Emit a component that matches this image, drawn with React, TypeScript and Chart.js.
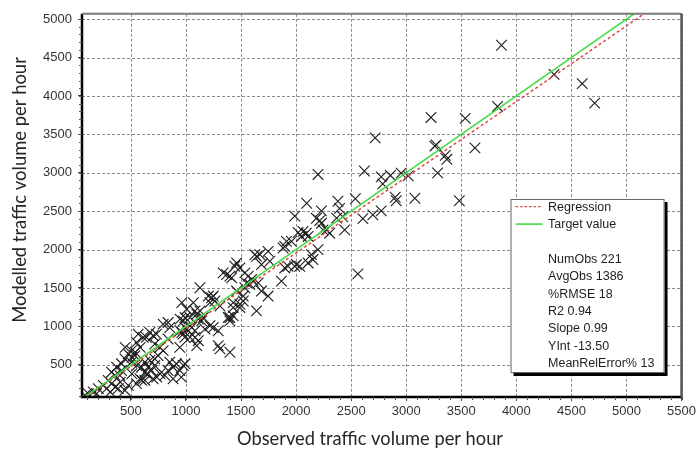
import React, { useEffect, useRef } from "react";
import { Chart, registerables } from "chart.js";

Chart.register(...registerables);

// ---- data ----
const OBSERVED = [
  3225, 3536, 2718, 3271, 3260, 3355, 3369, 2199, 2620, 3285, 2773, 2857, 2954, 3018, 2787,
  2096, 2380, 2538, 2900, 2909, 3079, 3482, 3865, 4342, 4598, 4711, 3829, 3624, 2773, 2395,
  2230, 2184, 2214, 1988, 2606, 2697, 2368, 2422, 2441, 2275, 2305, 2230, 2244, 2063, 2093,
  2109, 2018, 2048, 1958, 1913, 1897, 1882, 2199, 2139, 2153, 2109, 2003, 2033, 1988, 1927,
  1897, 1867, 2561, 1641, 1671, 1746, 1761, 1686, 1460, 1444, 1490, 1626, 1338, 1415, 1369,
  1565, 1596, 1550, 1580, 1610, 1535, 1535, 1656, 1460, 1520, 1746, 1686, 1490, 1429, 1520,
  1399, 1641, 1399, 1127, 1233, 1263, 1203, 1218, 1248, 1309, 1429, 1490, 1384, 1429, 962,
  1007, 1067, 1082, 1037, 1098, 1112, 1143, 1157, 1127, 976, 992, 1052, 1082, 1173, 1218,
  1293, 1037, 1082, 1112, 1098, 1293, 946, 793, 838, 853, 974, 989, 944, 672, 702,
  641, 732, 566, 611, 551, 763, 793, 717, 747, 853, 883, 838, 808, 913, 944,
  958, 883, 672, 627, 717, 596, 657, 687, 627, 717, 505, 476, 446, 536, 505,
  415, 370, 415, 355, 400, 324, 582, 551, 627, 702, 294, 249, 324, 204, 279,
  159, 113, 83, 189, 446, 385, 476, 838, 946, 992, 1007, 962, 976, 992, 735,
  765, 1309, 1248, 1399, 1399, 313, 358, 403, 509, 539, 584, 448, 554, 509, 645,
  600,
];
const MODELLED = [
  3720, 3708, 3454, 3363, 3346, 3226, 3175, 2978, 3023, 2998, 2946, 2965, 2995, 2959, 2855,
  2603, 2629, 2662, 2681, 2636, 2668, 2636, 4660, 4280, 4160, 3906, 3863, 3324, 2503, 2536,
  2503, 2407, 2377, 2435, 2403, 2451, 2410, 2429, 2257, 2257, 2213, 2342, 2257, 2235, 2213,
  2171, 2222, 2171, 2106, 2106, 2041, 2020, 1999, 1934, 1870, 1826, 1805, 1783, 1783, 1783,
  1761, 1589, 1683, 1912, 1934, 1977, 1848, 1805, 1826, 1783, 1761, 1934, 1696, 1632, 1676,
  1654, 1611, 1567, 1547, 1589, 1503, 1696, 1567, 1460, 1395, 1395, 1460, 1288, 1244, 1331,
  1115, 1202, 663, 1503, 1373, 1331, 1395, 1309, 1395, 1266, 1309, 1244, 1115, 1137, 1309,
  1224, 1309, 1202, 1115, 1159, 1094, 1072, 1115, 1202, 1072, 986, 986, 943, 965, 1008,
  943, 857, 857, 814, 749, 749, 943, 1030, 1050, 986, 900, 857, 727, 921, 879,
  857, 900, 900, 857, 792, 727, 685, 771, 620, 534, 469, 426, 362, 513, 426,
  340, 319, 556, 534, 578, 469, 469, 426, 404, 491, 685, 642, 578, 620, 534,
  513, 469, 426, 362, 362, 404, 319, 255, 297, 319, 297, 233, 255, 190, 190,
  146, 125, 104, 125, 168, 190, 233, 836, 1094, 1115, 965, 921, 491, 513, 340,
  384, 707, 986, 1072, 1654, 146, 211, 275, 598, 663, 727, 727, 491, 384, 384,
  297,
];

const X_TICKS = [500, 1000, 1500, 2000, 2500, 3000, 3500, 4000, 4500, 5000, 5500];
const Y_TICKS = [500, 1000, 1500, 2000, 2500, 3000, 3500, 4000, 4500, 5000];
const X_MIN = 56;
const X_MAX = 5500;
const Y_MIN = 81;
const Y_MAX = 5069;
const MINOR_STEP = 100;

const REG_SLOPE = 0.985;
const REG_INTERCEPT = -13.5;

const LEGEND_LABELS = ["Regression", "Target value"];
const STAT_LABELS = [
  "NumObs 221",
  "AvgObs 1386",
  "%RMSE 18",
  "R2 0.94",
  "Slope 0.99",
  "YInt -13.50",
  "MeanRelError% 13",
];
const X_TITLE = "Observed traffic volume per hour";
const Y_TITLE = "Modelled traffic volume per hour";

const GREEN = "#45dc45";
const RED = "#e04848";
const GRID = "#8c8c8c";

const decorPlugin = {
  id: "decor",
  beforeDatasetsDraw(chart: any) {
    // dashed grid lines
    const { ctx, chartArea: a, scales } = chart;
    ctx.save();
    ctx.strokeStyle = GRID;
    ctx.lineWidth = 1;
    ctx.setLineDash([3, 2]);
    ctx.beginPath();
    X_TICKS.forEach((v) => {
      const px = Math.round(scales.x.getPixelForValue(v)) + 0.5;
      ctx.moveTo(px, a.top);
      ctx.lineTo(px, a.bottom);
    });
    Y_TICKS.forEach((v) => {
      const py = Math.round(scales.y.getPixelForValue(v)) + 0.5;
      ctx.moveTo(a.left, py);
      ctx.lineTo(a.right, py);
    });
    ctx.stroke();
    ctx.restore();
  },
  afterDraw(chart: any) {
    const { ctx, chartArea: a, scales } = chart;
    const xs = scales.x;
    const ys = scales.y;
    ctx.save();

    // axes (left & bottom black), top & right frame
    ctx.strokeStyle = "#000";
    ctx.lineWidth = 2.5;
    ctx.beginPath();
    ctx.moveTo(a.left, a.top);
    ctx.lineTo(a.left, a.bottom);
    ctx.lineTo(a.right, a.bottom);
    ctx.stroke();
    ctx.strokeStyle = "#7a7a7a";
    ctx.lineWidth = 2;
    ctx.beginPath();
    ctx.moveTo(a.left, a.top);
    ctx.lineTo(a.right, a.top);
    ctx.stroke();
    ctx.strokeStyle = "#555";
    ctx.lineWidth = 2.5;
    ctx.beginPath();
    ctx.moveTo(a.right, a.top);
    ctx.lineTo(a.right, a.bottom);
    ctx.stroke();

    // minor ticks
    ctx.strokeStyle = "#555";
    ctx.lineWidth = 1;
    ctx.beginPath();
    for (let v = Math.ceil(X_MIN / MINOR_STEP) * MINOR_STEP; v <= X_MAX; v += MINOR_STEP) {
      const px = Math.round(xs.getPixelForValue(v)) + 0.5;
      ctx.moveTo(px, a.bottom);
      ctx.lineTo(px, a.bottom + 3);
    }
    for (let v = Math.ceil(Y_MIN / MINOR_STEP) * MINOR_STEP; v <= Y_MAX; v += MINOR_STEP) {
      const py = Math.round(ys.getPixelForValue(v)) + 0.5;
      ctx.moveTo(a.left, py);
      ctx.lineTo(a.left - 3, py);
    }
    ctx.stroke();

    // axis titles
    const fitFont = (text: string, target: number) => {
      ctx.font = "20px Lato";
      const w = ctx.measureText(text).width;
      return (20 * target) / w;
    };
    ctx.fillStyle = "#262626";
    ctx.textAlign = "center";
    ctx.textBaseline = "middle";
    let fs = fitFont(X_TITLE, 266);
    ctx.font = `${fs}px Lato`;
    ctx.fillText(X_TITLE, 370, 439);
    fs = fitFont(Y_TITLE, 266);
    ctx.save();
    ctx.translate(20, 190);
    ctx.rotate(-Math.PI / 2);
    ctx.font = `${fs}px Lato`;
    ctx.fillText(Y_TITLE, 0, 0);
    ctx.restore();

    // legend / stats box
    const bx = a.right - 171;
    const by = 199;
    const bw = 154;
    const bh = 174;
    ctx.fillStyle = "#000";
    ctx.fillRect(bx + 3, by + 3, bw, bh);
    ctx.fillStyle = "#fff";
    ctx.fillRect(bx, by, bw, bh);
    ctx.strokeStyle = "#666";
    ctx.lineWidth = 1;
    ctx.strokeRect(bx + 0.5, by + 0.5, bw - 1, bh - 1);

    const lineH = 17.4;
    const y0 = by + 7.7;
    const tx = bx + 37.5;
    ctx.lineWidth = 1.3;
    ctx.strokeStyle = RED;
    ctx.setLineDash([2.5, 2]);
    ctx.beginPath();
    ctx.moveTo(bx + 5, y0);
    ctx.lineTo(bx + 32, y0);
    ctx.stroke();
    ctx.setLineDash([]);
    ctx.strokeStyle = GREEN;
    ctx.lineWidth = 1.6;
    ctx.beginPath();
    ctx.moveTo(bx + 5, y0 + lineH);
    ctx.lineTo(bx + 32, y0 + lineH);
    ctx.stroke();

    ctx.fillStyle = "#1e1e1e";
    ctx.textAlign = "left";
    ctx.textBaseline = "middle";
    ctx.font = "12.5px 'Liberation Sans', Arial, sans-serif";
    LEGEND_LABELS.forEach((t, i) => ctx.fillText(t, tx, y0 + i * lineH + 0.5));
    STAT_LABELS.forEach((t, i) => ctx.fillText(t, tx, y0 + (i + 3) * lineH + 0.5));

    ctx.restore();
  },
};

export default function App() {
  const ref = useRef<HTMLCanvasElement | null>(null);

  useEffect(() => {
    document.body.style.margin = "0";
    const canvas = ref.current;
    if (!canvas) return;
    const points = OBSERVED.map((x, i) => ({ x, y: MODELLED[i] }));
    const tickFont = { family: "'Liberation Sans', Arial, sans-serif", size: 13 };
    const chart = new Chart(canvas, {
      type: "scatter",
      data: {
        datasets: [
          {
            type: "line",
            label: LEGEND_LABELS[1],
            data: [
              { x: X_MIN, y: X_MIN },
              { x: X_MAX, y: X_MAX },
            ],
            borderColor: GREEN,
            borderWidth: 1.6,
            pointRadius: 0,
            fill: false,
          } as any,
          {
            type: "line",
            label: LEGEND_LABELS[0],
            data: [
              { x: X_MIN, y: REG_SLOPE * X_MIN + REG_INTERCEPT },
              { x: X_MAX, y: REG_SLOPE * X_MAX + REG_INTERCEPT },
            ],
            borderColor: RED,
            borderWidth: 1.5,
            borderDash: [3, 2.5],
            pointRadius: 0,
            fill: false,
          } as any,
          {
            label: "Observations",
            data: points,
            pointStyle: "crossRot",
            pointRadius: 7.5,
            pointHoverRadius: 7.5,
            borderColor: "#1c1c1c",
            backgroundColor: "#1c1c1c",
            pointBorderWidth: 1.1,
          } as any,
        ],
      },
      options: {
        animation: false,
        responsive: true,
        maintainAspectRatio: false,
        events: [],
        layout: { padding: { left: 0, right: 15, top: 11, bottom: 0 } },
        plugins: {
          legend: { display: false },
          tooltip: { enabled: false },
          title: { display: false },
        },
        scales: {
          x: {
            type: "linear",
            min: X_MIN,
            max: X_MAX,
            afterBuildTicks: (s: any) => {
              s.ticks = X_TICKS.map((v) => ({ value: v }));
            },
            afterFit: (s: any) => {
              s.height = 52;
            },
            ticks: {
              autoSkip: false,
              maxRotation: 0,
              padding: 3,
              color: "#333",
              font: tickFont,
              callback: (v: any) => String(v),
            },
            grid: {
              drawOnChartArea: false,
              tickLength: 4,
              tickColor: "#444",
              drawTicks: true,
            },
            border: { display: false },
          },
          y: {
            type: "linear",
            min: Y_MIN,
            max: Y_MAX,
            afterBuildTicks: (s: any) => {
              s.ticks = Y_TICKS.map((v) => ({ value: v }));
            },
            afterFit: (s: any) => {
              s.width = 82;
            },
            ticks: {
              autoSkip: false,
              padding: 6,
              color: "#333",
              font: tickFont,
              callback: (v: any) => String(v),
            },
            grid: {
              drawOnChartArea: false,
              tickLength: 4,
              tickColor: "#444",
              drawTicks: true,
            },
            border: { display: false },
          },
        },
      },
      plugins: [decorPlugin],
    });
    return () => chart.destroy();
  }, []);

  return (
    <div style={{ position: "absolute", left: 0, top: 0, width: 699, height: 449, background: "#fff" }}>
      <canvas ref={ref} />
    </div>
  );
}
